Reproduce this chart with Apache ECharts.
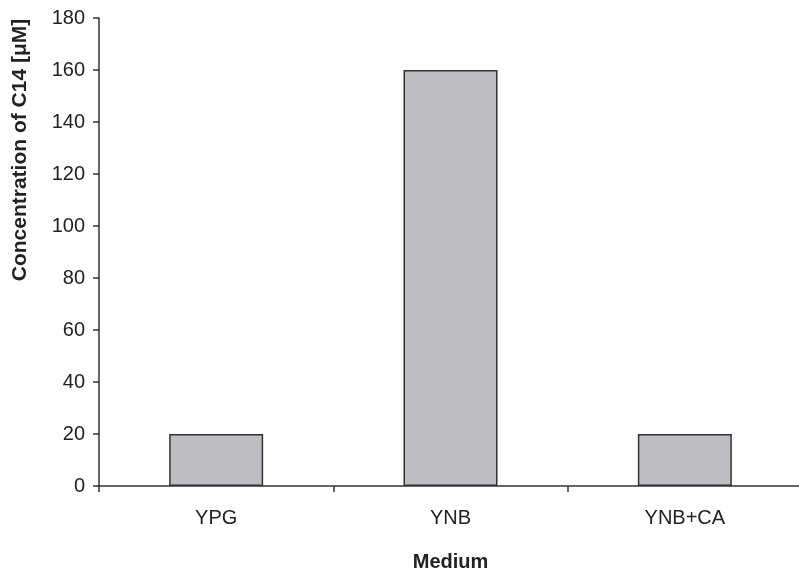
<!DOCTYPE html>
<html><head><meta charset="utf-8">
<script src="https://cdn.jsdelivr.net/npm/echarts@6/dist/echarts.min.js"></script>
<style>html,body{margin:0;padding:0;background:#fff;overflow:hidden}#c{width:799px;height:571px}</style>
</head><body><div id="c"></div>
<script>
var categories = ['YPG', 'YNB', 'YNB+CA'];
var values = [20, 160, 20];
var yTicks = [0, 20, 40, 60, 80, 100, 120, 140, 160, 180];
var chart = echarts.init(document.getElementById('c'), null, {renderer: 'canvas', width: 799, height: 571});
var font = 'Liberation Sans, Arial, sans-serif';
chart.setOption({
  animation: false,
  backgroundColor: '#fff',
  grid: {left: 99, top: 18, width: 703, height: 468, containLabel: false, outerBoundsMode: 'none'},
  xAxis: {
    type: 'category', data: categories,
    name: 'Medium', nameLocation: 'middle', nameGap: 66,
    nameTextStyle: {fontFamily: font, fontSize: 20, fontWeight: 'bold', color: '#222'},
    axisLine: {lineStyle: {color: '#333', width: 1.5}},
    axisTick: {show: true, length: 6, inside: false, alignWithLabel: false, lineStyle: {color: '#333', width: 1.5}},
    axisLabel: {margin: 22, fontFamily: font, fontSize: 20, color: '#222'},
    splitLine: {show: false}
  },
  yAxis: {
    type: 'value', min: yTicks[0], max: yTicks[yTicks.length - 1], interval: 20,
    name: 'Concentration of C14 [μM]', nameLocation: 'middle', nameGap: 68, nameRotate: 90,
    nameTextStyle: {fontFamily: font, fontSize: 21, fontWeight: 'bold', color: '#222', padding: [0, 0, 0, 204]},
    axisLine: {show: true, lineStyle: {color: '#333', width: 1.5}},
    axisTick: {show: true, length: 6, lineStyle: {color: '#333', width: 1.5}},
    axisLabel: {margin: 14, fontFamily: font, fontSize: 20, color: '#222'},
    splitLine: {show: false}
  },
  series: [{
    type: 'bar', data: values, barWidth: 94,
    itemStyle: {color: '#bdbec2', borderColor: '#333', borderWidth: 1.5}
  }]
});
</script></body></html>
